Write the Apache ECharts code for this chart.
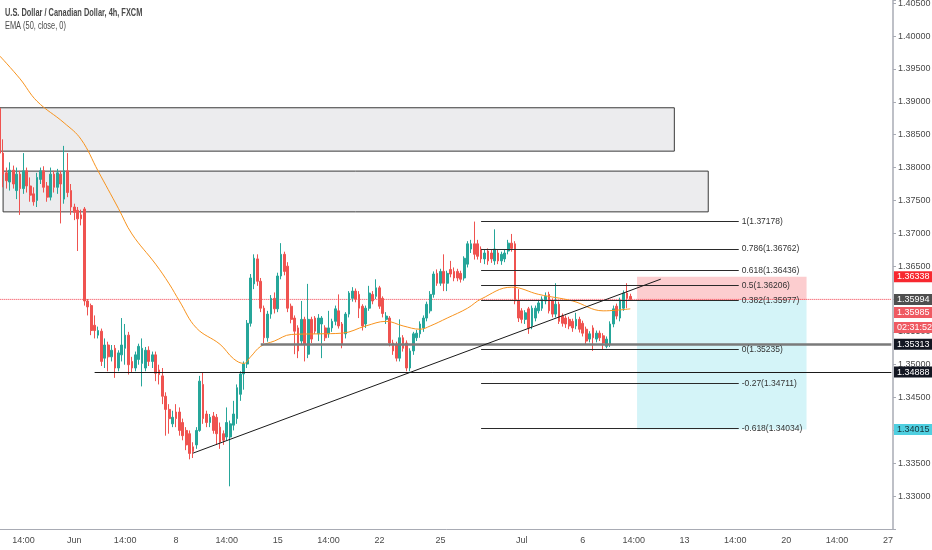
<!DOCTYPE html>
<html><head><meta charset="utf-8">
<script src="https://cdn.jsdelivr.net/npm/echarts/dist/echarts.min.js"></script>
<style>html,body{margin:0;padding:0;background:#fff}#c{width:932px;height:550px}</style>
</head><body><div id="c"></div>
<script>
const FONT = '"Liberation Sans Narrow","Liberation Sans",Arial,sans-serif';
const titleText = 'U.S. Dollar / Canadian Dollar, 4h, FXCM';
const studyText = 'EMA (50, close, 0)';
const barCount = 264;
const tickLabels = ['14:00','Jun','14:00','8','14:00','15','14:00','22','25','Jul','6','14:00','13','14:00','20','14:00','27'];
const tickBars = [7,22,37,52,67,82,97,112,130,154,172,187,202,217,232,247,262];
// [open, close, low, high]
const ohlc = [
[1.3890,1.3822,1.3815,1.3893],[1.3822,1.3790,1.3770,1.3843],[1.3792,1.3780,1.3768,1.3800],[1.3778,1.3796,1.3765,1.3808],[1.3796,1.3775,1.3768,1.3803],
[1.3765,1.3790,1.3752,1.3800],[1.3790,1.3768,1.3728,1.3795],[1.3768,1.3795,1.3760,1.3822],[1.3795,1.3772,1.3762,1.3800],[1.3772,1.3758,1.3748,1.3785],
[1.3760,1.3748,1.3742,1.3770],[1.3750,1.3785,1.3740,1.3792],[1.3782,1.3795,1.3775,1.3800],[1.3795,1.3770,1.3762,1.3802],[1.3772,1.3755,1.3748,1.3778],
[1.3755,1.3790,1.3750,1.3800],[1.3790,1.3770,1.3762,1.3795],[1.3770,1.3792,1.3760,1.3798],[1.3790,1.3775,1.3715,1.3795],[1.3752,1.3795,1.3745,1.3833],
[1.3795,1.3762,1.3755,1.3822],[1.3765,1.3740,1.3728,1.3775],[1.3740,1.3732,1.3720,1.3745],[1.3735,1.3722,1.3673,1.3740],[1.3728,1.3722,1.3712,1.3736],
[1.3737,1.3597,1.3590,1.3740],[1.3597,1.3588,1.3575,1.3600],[1.3590,1.3552,1.3545,1.3593],[1.3560,1.3552,1.3540,1.3575],[1.3545,1.3552,1.3540,1.3558],
[1.3551,1.3505,1.3498,1.3555],[1.3510,1.3530,1.3495,1.3540],[1.3530,1.3512,1.3490,1.3535],[1.3512,1.3522,1.3505,1.3530],[1.3525,1.3495,1.3480,1.3530],
[1.3495,1.3518,1.3490,1.3522],[1.3515,1.3530,1.3505,1.3571],[1.3525,1.3545,1.3500,1.3562],[1.3545,1.3500,1.3485,1.3550],[1.3505,1.3495,1.3488,1.3512],
[1.3495,1.3515,1.3490,1.3520],[1.3508,1.3528,1.3500,1.3532],[1.3502,1.3525,1.3467,1.3540],[1.3495,1.3522,1.3490,1.3527],[1.3522,1.3505,1.3498,1.3528],
[1.3505,1.3515,1.3495,1.3520],[1.3515,1.3487,1.3475,1.3520],[1.3492,1.3485,1.3470,1.3500],[1.3483,1.3452,1.3440,1.3495],[1.3452,1.3432,1.3392,1.3458],
[1.3432,1.3418,1.3395,1.3440],[1.3410,1.3420,1.3405,1.3430],[1.3428,1.3418,1.3405,1.3440],[1.3428,1.3400,1.3392,1.3435],[1.3412,1.3392,1.3385,1.3418],
[1.3400,1.3378,1.3370,1.3405],[1.3395,1.3365,1.3356,1.3400],[1.3375,1.3368,1.3358,1.3382],[1.3378,1.3400,1.3372,1.3405],[1.3400,1.3475,1.3398,1.3483],
[1.3470,1.3418,1.3410,1.3488],[1.3425,1.3412,1.3405,1.3430],[1.3412,1.3420,1.3405,1.3425],[1.3422,1.3400,1.3395,1.3428],[1.3420,1.3395,1.3378,1.3425],
[1.3405,1.3382,1.3372,1.3412],[1.3395,1.3385,1.3378,1.3400],[1.3390,1.3412,1.3385,1.3435],[1.3390,1.3410,1.3315,1.3415],[1.3408,1.3425,1.3400,1.3445],
[1.3418,1.3465,1.3410,1.3470],[1.3455,1.3486,1.3445,1.3490],[1.3486,1.3501,1.3462,1.3505],[1.3501,1.3563,1.3495,1.3568],[1.3563,1.3632,1.3558,1.3638],
[1.3623,1.3662,1.3615,1.3668],[1.3661,1.3627,1.3620,1.3668],[1.3627,1.3586,1.3580,1.3632],[1.3586,1.3541,1.3533,1.3590],[1.3541,1.3577,1.3535,1.3582],
[1.3577,1.3601,1.3570,1.3606],[1.3601,1.3585,1.3578,1.3610],[1.3585,1.3635,1.3580,1.3640],[1.3635,1.3668,1.3630,1.3685],[1.3668,1.3642,1.3636,1.3672],
[1.3650,1.3586,1.3580,1.3656],[1.3589,1.3569,1.3563,1.3593],[1.3571,1.3551,1.3516,1.3575],[1.3556,1.3521,1.3510,1.3560],[1.3536,1.3569,1.3530,1.3597],
[1.3569,1.3531,1.3505,1.3573],[1.3516,1.3569,1.3510,1.3623],[1.3569,1.3539,1.3533,1.3573],[1.3571,1.3551,1.3547,1.3574],[1.3547,1.3571,1.3536,1.3577],
[1.3562,1.3571,1.3510,1.3574],[1.3556,1.3541,1.3536,1.3560],[1.3547,1.3556,1.3541,1.3582],[1.3556,1.3566,1.3550,1.3570],[1.3566,1.3585,1.3560,1.3590],
[1.3582,1.3559,1.3555,1.3607],[1.3562,1.3531,1.3525,1.3565],[1.3547,1.3577,1.3540,1.3580],[1.3577,1.3609,1.3572,1.3612],[1.3601,1.3612,1.3596,1.3618],
[1.3612,1.3600,1.3595,1.3616],[1.3607,1.3586,1.3571,1.3612],[1.3589,1.3559,1.3552,1.3592],[1.3562,1.3586,1.3556,1.3590],[1.3586,1.3609,1.3582,1.3620],
[1.3607,1.3597,1.3592,1.3612],[1.3604,1.3617,1.3600,1.3630],[1.3617,1.3589,1.3585,1.3620],[1.3601,1.3578,1.3572,1.3604],[1.3569,1.3574,1.3562,1.3580],
[1.3571,1.3533,1.3528,1.3574],[1.3533,1.3521,1.3515,1.3538],[1.3531,1.3510,1.3505,1.3535],[1.3510,1.3541,1.3505,1.3569],[1.3541,1.3525,1.3520,1.3545],
[1.3533,1.3495,1.3490,1.3537],[1.3495,1.3521,1.3490,1.3525],[1.3521,1.3547,1.3515,1.3550],[1.3541,1.3548,1.3536,1.3553],[1.3547,1.3562,1.3541,1.3566],
[1.3556,1.3571,1.3550,1.3575],[1.3571,1.3592,1.3566,1.3596],[1.3582,1.3607,1.3578,1.3612],[1.3607,1.3638,1.3602,1.3642],[1.3639,1.3624,1.3620,1.3645],
[1.3624,1.3642,1.3620,1.3646],[1.3642,1.3624,1.3612,1.3668],[1.3624,1.3639,1.3612,1.3643],[1.3645,1.3638,1.3633,1.3658],[1.3642,1.3632,1.3627,1.3648],
[1.3642,1.3632,1.3627,1.3646],[1.3639,1.3630,1.3625,1.3643],[1.3632,1.3662,1.3628,1.3665],[1.3653,1.3684,1.3648,1.3688],[1.3676,1.3684,1.3670,1.3690],
[1.3684,1.3668,1.3660,1.37178],[1.3684,1.3665,1.3660,1.3690],[1.3676,1.3661,1.3655,1.3680],[1.3661,1.3670,1.3653,1.3675],[1.3673,1.3658,1.3652,1.3677],
[1.3670,1.3661,1.3655,1.3675],[1.3658,1.3676,1.3652,1.3706],[1.3670,1.3658,1.3653,1.3675],[1.3658,1.3668,1.3652,1.3672],[1.3661,1.3670,1.3656,1.3675],
[1.3673,1.3685,1.3668,1.3690],[1.3685,1.3677,1.3672,1.3699],[1.3684,1.3597,1.3592,1.3688],[1.3597,1.3571,1.3565,1.3615],[1.3582,1.3569,1.3563,1.3586],
[1.3569,1.3579,1.3562,1.3583],[1.3585,1.3556,1.3547,1.3588],[1.3559,1.3586,1.3554,1.3590],[1.3571,1.3586,1.3566,1.3590],[1.3582,1.3594,1.3578,1.3598],
[1.3586,1.3600,1.3582,1.3604],[1.3597,1.3604,1.3592,1.3610],[1.3607,1.3582,1.3578,1.3611],[1.3597,1.3577,1.3572,1.3601],[1.3577,1.3592,1.3572,1.3624],
[1.3592,1.3566,1.3562,1.3596],[1.3574,1.3563,1.3558,1.3578],[1.3571,1.3562,1.3556,1.3575],[1.3569,1.3559,1.3554,1.3573],[1.3566,1.3556,1.3550,1.3570],
[1.3559,1.3569,1.3554,1.3579],[1.3569,1.3554,1.3549,1.3573],[1.3563,1.3548,1.3543,1.3567],[1.3554,1.3536,1.3530,1.3558],[1.3539,1.3547,1.3534,1.3551],
[1.3556,1.3541,1.3521,1.3560],[1.3539,1.3548,1.3534,1.3552],[1.3548,1.3541,1.3536,1.3552],[1.3544,1.3533,1.35235,1.3548],[1.3528,1.3539,1.3525,1.3543],
[1.3531,1.3562,1.3527,1.3566],[1.3562,1.3585,1.3557,1.3590],[1.3589,1.3574,1.3569,1.3593],[1.3571,1.3597,1.3566,1.3602],[1.3586,1.3609,1.3582,1.3613],
[1.3609,1.3601,1.3586,1.3624],[1.3604,1.35994,1.3597,1.3608]
];
// EMA(50): [bar index, value]
const emaPoints = [
[0,1.3970],[6,1.3935],[11,1.3901],[19,1.3868],[24,1.3843],[29,1.3795],[35,1.3738],[39,1.3699],[46,1.3653],[50,1.3623],
[53,1.3597],[58,1.3556],[65,1.3531],[69,1.3509],[72,1.3502],[74,1.3512],[77,1.3528],[81,1.3536],[86,1.3546],[94,1.3547],
[101,1.3548],[108,1.3559],[114,1.3566],[119,1.3559],[124,1.3554],[127,1.3559],[132,1.3571],[138,1.3586],[142,1.3600],[151,1.3618],
[159,1.3607],[169,1.3597],[178,1.3582],[182,1.3583],[186,1.3585]
];
// supply zones: [fromBar, toBar, top, bottom]
const supplyZones = [[0,199,1.3891,1.3825],[1,209,1.37946,1.37326]];
const fibLevels = [1,0.786,0.618,0.5,0.382,0,-0.27,-0.618];
const fibPrices = [1.37178,1.36762,1.36436,1.36206,1.35977,1.35235,1.34711,1.34034];
const fibBars = [141.5,217.5];
const levelStarts = [77,28];
const levelPrices = [1.35313,1.34888];
const trendBars = [57,194.5];
const trendPrices = [1.33654,1.36302];
const positionBars = [188,238];
const stopPrice = 1.36338, entryPrice = 1.35985, targetPrice = 1.34015;
const lastPrice = 1.35994;
const countdown = '02:31:52';
// price tags on the right scale
const tagValues = [stopPrice, lastPrice, levelPrices[0], levelPrices[1], targetPrice];
const tagColors = ['#f7282f', '#4f4f4f', '#131722', '#131722', '#4fcfe0'];
const tagTextColors = ['#ffffff', '#ffffff', '#ffffff', '#ffffff', '#15333a'];

const categories = Array.from({length: barCount}, () => '');
tickBars.forEach((b, k) => { categories[b] = tickLabels[k]; });
const lastBar = barCount - 1;

const chart = echarts.init(document.getElementById('c'));
const axisColor = '#a8abb4';
const textColor = '#4a4a4a';
const AX_FS = 9;
const Y_MIN = 1.325, Y_MAX = 1.4055;

function tagLabel(text, bg, fg, gap) {
  const rich = { t: { backgroundColor: bg, color: fg, padding: [1, 3, 1, 3], fontSize: AX_FS, lineHeight: 11, fontFamily: FONT },
    s: { height: gap, lineHeight: gap, fontSize: 1 } };
  return { show: true, position: 'end', distance: 1, verticalAlign: 'top', rich: rich, formatter: '{s| }\n{t|' + text + '}' };
}
function tag(value, text, bg, fg, gap) {
  return { yAxis: value, lineStyle: { width: 0.01, color: 'rgba(0,0,0,0)', opacity: 1 }, label: tagLabel(text, bg, fg, gap) };
}

const zoneAreas = supplyZones.map(z => [
  { coord: [z[0], z[2]], itemStyle: { color: '#ececee', borderColor: '#3a3a3a', borderWidth: 1 } },
  { coord: [z[1], z[3]] }
]);
zoneAreas.push([
  { coord: [positionBars[0], stopPrice], itemStyle: { color: 'rgba(245,60,70,0.26)', borderWidth: 0 } },
  { coord: [positionBars[1], entryPrice] }
]);
zoneAreas.push([
  { coord: [positionBars[0], entryPrice], itemStyle: { color: 'rgba(0,188,212,0.17)', borderWidth: 0 } },
  { coord: [positionBars[1], targetPrice] }
]);

const drawLines = [];
fibLevels.forEach((lv, k) => {
  drawLines.push([
    { coord: [fibBars[0], fibPrices[k]], lineStyle: { color: '#2a2a2a', width: 1, type: 'solid' },
      label: { show: true, position: 'end', distance: 3, formatter: lv + '(' + fibPrices[k].toFixed(5) + ')', color: '#333', fontSize: 8.5, fontFamily: FONT } },
    { coord: [fibBars[1], fibPrices[k]] }
  ]);
});
drawLines.push([
  { coord: [levelStarts[0], levelPrices[0]], lineStyle: { color: '#7a7a7a', width: 2.5, type: 'solid' } },
  { coord: [lastBar, levelPrices[0]] }
]);
drawLines.push([
  { coord: [levelStarts[1], levelPrices[1]], lineStyle: { color: '#1a1a1a', width: 1, type: 'solid' } },
  { coord: [lastBar, levelPrices[1]] }
]);
drawLines.push([
  { coord: [trendBars[0], trendPrices[0]], lineStyle: { color: '#1a1a1a', width: 1, type: 'solid' } },
  { coord: [trendBars[1], trendPrices[1]] }
]);

const tagRich = {};
tagValues.forEach((v, k) => {
  tagRich['k' + k] = { backgroundColor: tagColors[k], color: tagTextColors[k], padding: [1, 3, 1, 3], fontSize: AX_FS, lineHeight: 11, fontFamily: FONT };
});

chart.setOption({
  animation: false,
  backgroundColor: '#ffffff',
  graphic: [
    { type: 'text', left: 5, top: 8, scaleX: 0.74, originX: 0, z: 10,
      style: { text: titleText, fill: '#4a4a4a', font: 'bold 10px "Liberation Sans", Arial, sans-serif' } },
    { type: 'text', left: 5, top: 21, scaleX: 0.74, originX: 0, z: 10,
      style: { text: studyText, fill: '#4a4a4a', font: '10px "Liberation Sans", Arial, sans-serif' } }
  ],
  grid: { left: -2, right: 39, top: 0, bottom: 21, containLabel: false, outerBoundsMode: 'none' },
  xAxis: {
    type: 'category', data: categories, boundaryGap: true,
    axisLine: { lineStyle: { color: axisColor, width: 1 } },
    axisTick: { interval: (i) => categories[i] !== '', alignWithLabel: true, length: 3, lineStyle: { color: axisColor } },
    axisLabel: { interval: (i) => categories[i] !== '', color: textColor, fontSize: AX_FS, fontFamily: FONT, margin: 7 },
    splitLine: { show: false }
  },
  yAxis: [{
    type: 'value', position: 'right', min: Y_MIN, max: Y_MAX, interval: 0.005,
    axisLine: { show: true, lineStyle: { color: axisColor, width: 1.5 } },
    axisTick: { show: true, length: 3, lineStyle: { color: axisColor } },
    axisLabel: {
      color: textColor, fontSize: AX_FS, fontFamily: FONT, margin: 5, hideOverlap: false,
      formatter: (v) => {
        const k = Math.round(v / 0.005);
        if (Math.abs(v - k * 0.005) > 1e-7 || v < 1.3299) return '';
        return v.toFixed(5);
      }
    },
    splitLine: { show: false }
  }, {
    type: 'value', position: 'right', min: Y_MIN, max: Y_MAX,
    axisLine: { show: false }, axisTick: { show: false }, splitLine: { show: false },
    axisLabel: {
      customValues: tagValues, margin: 1, hideOverlap: false, showMinLabel: true, showMaxLabel: true,
      formatter: (v) => { const k = tagValues.indexOf(v); return k < 0 ? '' : '{k' + k + '|' + v.toFixed(5) + '}'; },
      rich: tagRich
    }
  }],
  series: [
    { name: 'zones', type: 'line', data: [], z: 1, silent: true,
      markArea: { silent: true, data: zoneAreas } },
    { name: 'priceLine', type: 'line', z: 1, silent: true, showSymbol: false, symbol: 'none',
      data: [[0, lastPrice], [lastBar, lastPrice]],
      lineStyle: { color: '#f23645', width: 1, type: 'dotted' } },
    { name: 'USDCAD', type: 'candlestick', data: ohlc, z: 2, barWidth: '66%',
      itemStyle: { color: '#26a69a', color0: '#ef5350', borderColor: '#26a69a', borderColor0: '#ef5350', borderWidth: 1 } },
    { name: 'EMA', type: 'line', data: emaPoints, z: 3, smooth: 0.4, showSymbol: false, symbol: 'none',
      lineStyle: { color: '#f7931e', width: 1 } },
    { name: 'drawings', type: 'line', data: [], z: 4, silent: true,
      markLine: { silent: true, symbol: ['none', 'none'], label: { show: false }, data: drawLines } },
    { name: 'positionTags', type: 'line', data: [], z: 6, silent: true, labelLayout: { hideOverlap: false },
      markLine: { silent: true, symbol: ['none', 'none'], label: { show: false },
        data: [tag(lastPrice, entryPrice.toFixed(5), '#ef5a62', '#fff', 8), tag(lastPrice, countdown, '#ef5a62', '#fff', 23)] } }
  ]
});
</script></body></html>
